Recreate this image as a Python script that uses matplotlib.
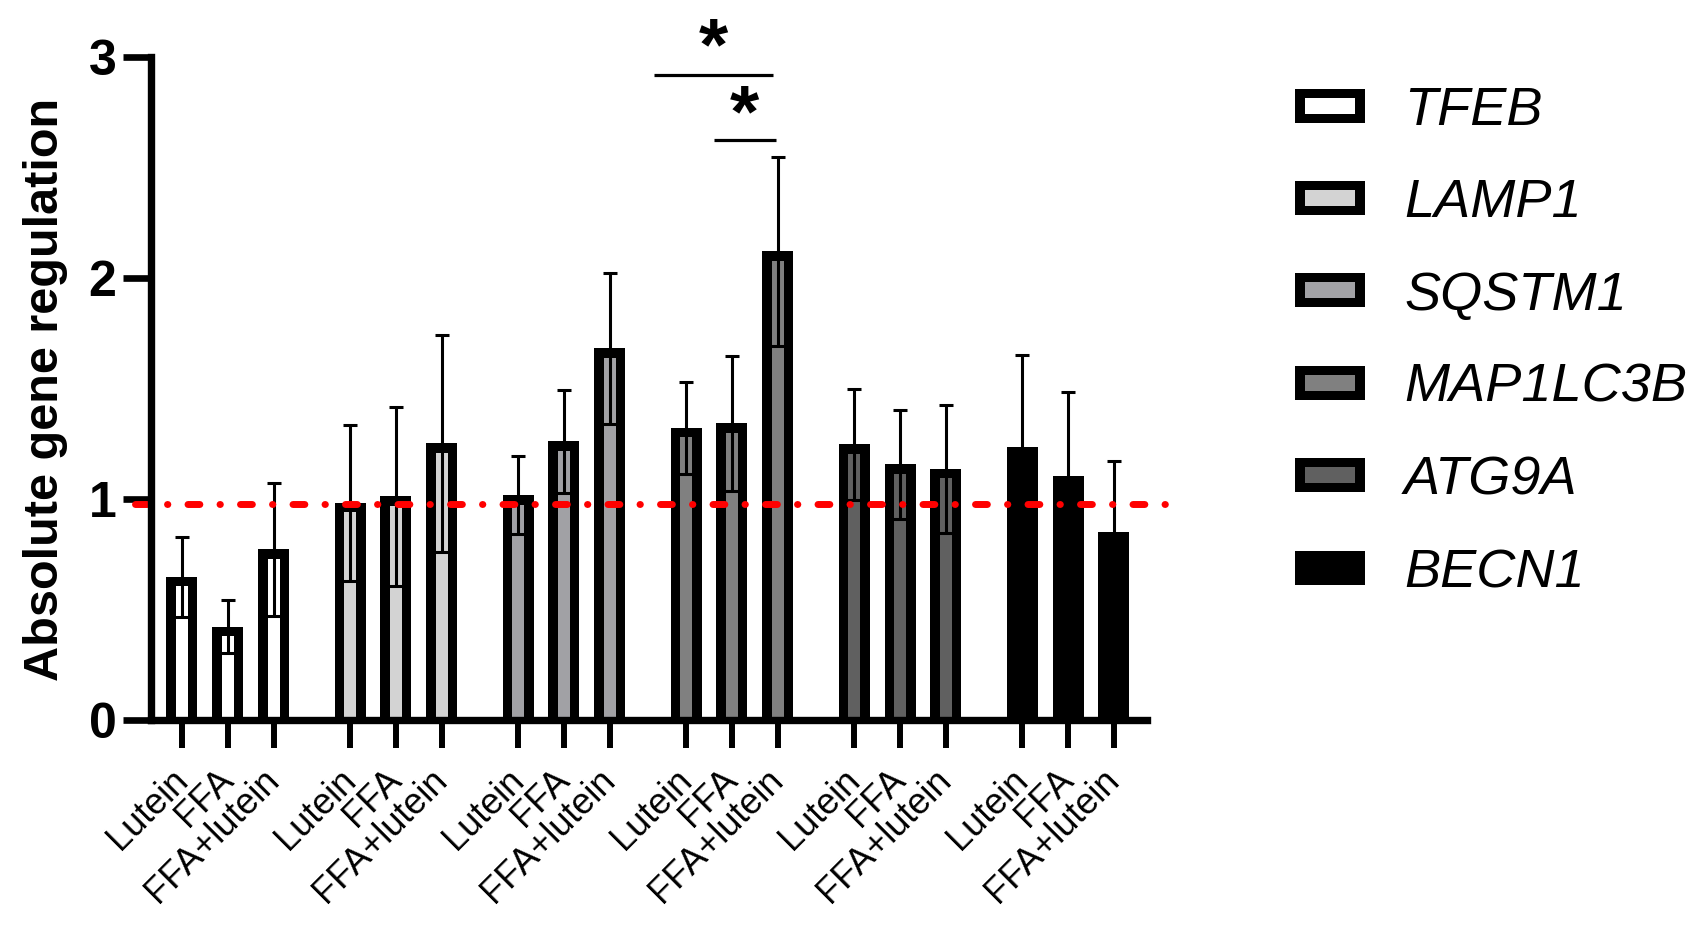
import matplotlib
matplotlib.use('Agg')
import matplotlib.pyplot as plt
from matplotlib.patches import Rectangle
from matplotlib.transforms import ScaledTranslation
import numpy as np

plt.rcParams['font.family'] = ['Liberation Sans', 'DejaVu Sans']

# ---------------- data ----------------
genes = ['TFEB', 'LAMP1', 'SQSTM1', 'MAP1LC3B', 'ATG9A', 'BECN1']
treatments = ['Lutein', 'FFA', 'FFA+lutein']
fill_colors = ['#ffffff', '#d3d3d3', '#a1a1a5', '#808080', '#606060', '#000000']

mean_TFEB = [0.645, 0.42, 0.77]
mean_LAMP1 = [0.98, 1.01, 1.25]
mean_SQSTM1 = [1.015, 1.26, 1.68]
mean_MAP1LC3B = [1.32, 1.34, 2.12]
mean_ATG9A = [1.245, 1.155, 1.135]
mean_BECN1 = [1.235, 1.10, 0.85]

sem_TFEB = [0.18, 0.12, 0.30]
sem_LAMP1 = [0.355, 0.405, 0.49]
sem_SQSTM1 = [0.177, 0.233, 0.343]
sem_MAP1LC3B = [0.207, 0.306, 0.428]
sem_ATG9A = [0.253, 0.247, 0.29]
sem_BECN1 = [0.414, 0.382, 0.318]

means = [mean_TFEB, mean_LAMP1, mean_SQSTM1, mean_MAP1LC3B, mean_ATG9A, mean_BECN1]
sems = [sem_TFEB, sem_LAMP1, sem_SQSTM1, sem_MAP1LC3B, sem_ATG9A, sem_BECN1]

ref_level = 0.976
y_ticks = [0, 1, 2, 3]

# significance annotations (MAP1LC3B comparisons)
sig_labels = ['*', '*']
sig_x0 = [10.28, 11.59]
sig_x1 = [12.88, 12.94]
sig_y = [2.919, 2.621]
star_x = [11.58, 12.25]
star_y = [3.03, 2.728]

# ---------------- layout ----------------
W, H = 1708, 925
fig = plt.figure(figsize=(W / 100, H / 100), dpi=100)
ax_left, ax_right, ax_bottom, ax_top = 151, 1147, 719.5, 56.7
ax = fig.add_axes([ax_left / W, (H - ax_bottom) / H,
                   (ax_right - ax_left) / W, (ax_bottom - ax_top) / H])

group_gap = 3.66
bar_w = 0.675
inner_w = 0.2614
border_y = 0.043

xs, labs = [], []
for g, gene in enumerate(genes):
    x = np.arange(3) + g * group_gap
    m = np.array(means[g])
    s = np.array(sems[g])
    ax.bar(x, m, width=bar_w, color='black', linewidth=0, zorder=2)
    ax.bar(x, m - border_y, width=inner_w, color=fill_colors[g], linewidth=0, zorder=3)
    ax.errorbar(x, m, yerr=s, fmt='none', ecolor='black', elinewidth=2.2,
                capsize=5, capthick=2.2, zorder=4)
    xs.extend(x); labs.extend(treatments)

ax.set_xlim(-0.675, 21.02)
ax.set_ylim(0, 3)

# reference line
ax.plot([-1.024, 21.6], [ref_level, ref_level], color='#ff0000', lw=5,
        ls=(0, (1.71, 2.9, 0.05, 2.9)), dash_capstyle='round',
        clip_on=False, zorder=6)

# significance
for i in range(len(sig_labels)):
    ax.plot([sig_x0[i], sig_x1[i]], [sig_y[i], sig_y[i]], color='black', lw=2.3,
            clip_on=False, solid_capstyle='butt', zorder=5)
    ax.text(star_x[i], star_y[i], sig_labels[i], ha='center', va='center',
            fontsize=54, fontweight='bold', clip_on=False)

for s in ['top', 'right']:
    ax.spines[s].set_visible(False)
for s in ['left', 'bottom']:
    ax.spines[s].set_linewidth(5.3)
    ax.spines[s].set_zorder(7)

ax.set_yticks(y_ticks)
ax.set_yticklabels([str(t) for t in y_ticks], fontsize=36, fontweight='bold')
ax.tick_params(axis='y', length=20, width=4.8, pad=5)
ax.set_xticks(xs)
ax.set_xticklabels(labs, rotation=45, ha='right', va='baseline',
                   rotation_mode='anchor', fontsize=26)
ax.tick_params(axis='x', length=19.8, width=4.3, pad=24.8)
offset = ScaledTranslation(0.07, 0.0, fig.dpi_scale_trans)
for lbl in ax.get_xticklabels():
    lbl.set_transform(lbl.get_transform() + offset)

ax.set_ylabel('Absolute gene regulation', fontsize=35, fontweight='bold')
ax.yaxis.set_label_coords((68 - ax_left) / (ax_right - ax_left), 0.4977)

# ---------------- legend ----------------
lax = fig.add_axes([0, 0, 1, 1])
lax.set_xlim(0, W); lax.set_ylim(H, 0); lax.axis('off')
row_y = [105.5, 197.5, 290, 382.5, 475, 567.5]
for g, gene in enumerate(genes):
    cy = row_y[g]
    lax.add_patch(Rectangle((1295, cy - 17), 70, 34, facecolor='black', lw=0))
    lax.add_patch(Rectangle((1305, cy - 8), 50, 16, facecolor=fill_colors[g], lw=0))
    lax.text(1404, cy + 19.5, gene, fontsize=39, fontstyle='italic',
             ha='left', va='baseline')

fig.savefig('out.png', dpi=100)
